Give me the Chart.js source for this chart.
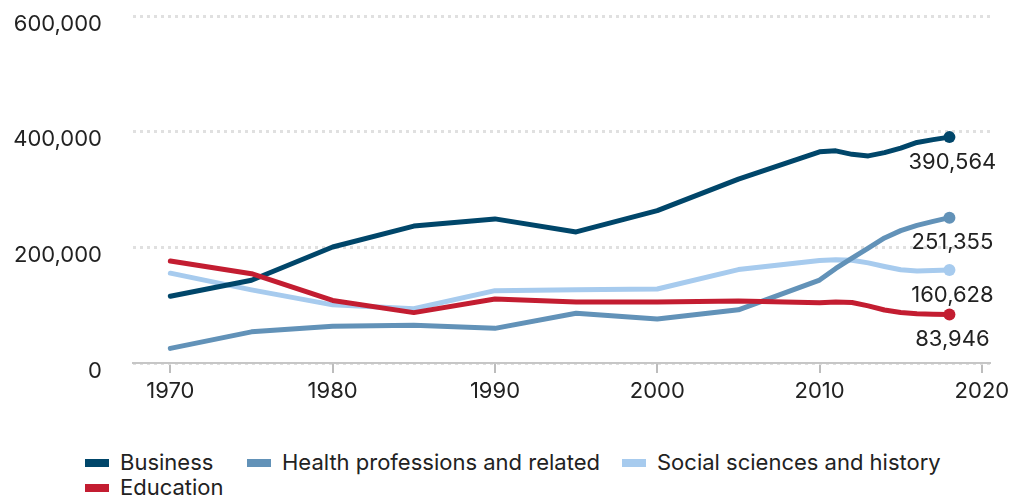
<!DOCTYPE html>
<html>
<head>
<meta charset="utf-8">
<script src="https://cdn.jsdelivr.net/npm/chart.js@4.4.1/dist/chart.umd.min.js"></script>
<style>
  body { margin: 0; background: #fff; }
  #wrap { position: relative; width: 1013px; height: 498px; }
  #plot { position: absolute; left: 0; top: 0; width: 1013px; height: 410px; }
  #legend {
    position: absolute; left: 85px; top: 450px; width: 910px;
    display: grid; grid-template-columns: 162px 375px auto;
    font: 22px Inter, sans-serif; color: #222; line-height: 25px;
  }
  .item { display: flex; align-items: center; }
  .swatch { width: 24px; height: 8px; margin-right: 11px; flex: none; }
</style>
</head>
<body>
<div id="wrap">
  <div id="plot"><canvas id="chart"></canvas></div>
  <div id="legend"></div>
</div>
<script>
// Degrees conferred by field, school years starting 1970 through 2018
const years = [1970, 1975, 1980, 1985, 1990, 1995, 2000, 2005, 2010, 2011, 2012, 2013, 2014, 2015, 2016, 2017, 2018];
const business = [115396, 143171, 200521, 236700, 249165, 226623, 263515, 318042, 365093, 366815, 360823, 358079, 363799, 371694, 381353, 386201, 390564];
const health = [25223, 53885, 63665, 65309, 59875, 86087, 75933, 91973, 143430, 163440, 181149, 198770, 216228, 228896, 238014, 244909, 251355];
const social = [155324, 126396, 100513, 93840, 125107, 126479, 128036, 161485, 177169, 178543, 177767, 173096, 166944, 161230, 159099, 159967, 160628];
const education = [176307, 154437, 108074, 87147, 110807, 105384, 105458, 107238, 104008, 105656, 104647, 98854, 91623, 87217, 85118, 84300, 83946];

const xTicks = [1970, 1980, 1990, 2000, 2010, 2020];
const yTicks = [0, 200000, 400000, 600000];

const FONT = 'Inter, sans-serif';
const SIZE = 22;
const TEXT = '#222';

const series = [
  { label: 'Business', values: business, color: '#00466a', order: 1 },
  { label: 'Health professions and related', values: health, color: '#6292b8', order: 2 },
  { label: 'Social sciences and history', values: social, color: '#a7cbee', order: 3 },
  { label: 'Education', values: education, color: '#c31d31', order: 0 }
];

const last = years.length - 1;

// value printed under the final point of each line
const endLabels = {
  id: 'endLabels',
  afterDatasetsDraw(chart) {
    const ctx = chart.ctx;
    ctx.save();
    ctx.font = SIZE + 'px ' + FONT;
    ctx.fillStyle = TEXT;
    ctx.textAlign = 'center';
    ctx.textBaseline = 'middle';
    chart.data.datasets.forEach((ds, i) => {
      const pt = chart.getDatasetMeta(i).data[last];
      ctx.fillText(ds.data[last].y.toLocaleString('en-US'), pt.x + 3, pt.y + 25);
    });
    ctx.restore();
  }
};

new Chart(document.getElementById('chart'), {
  type: 'line',
  data: {
    datasets: series.map(s => ({
      label: s.label,
      data: years.map((yr, i) => ({ x: yr, y: s.values[i] })),
      borderColor: s.color,
      backgroundColor: s.color,
      pointBackgroundColor: s.color,
      borderWidth: 5,
      borderCapStyle: 'round',
      borderJoinStyle: 'round',
      tension: 0,
      order: s.order,
      pointBorderWidth: 0,
      pointRadius: ctx => ctx.dataIndex === last ? 6 : 0,
      pointHoverRadius: ctx => ctx.dataIndex === last ? 6 : 0,
      clip: false
    }))
  },
  options: {
    responsive: true,
    maintainAspectRatio: false,
    animation: false,
    events: [],
    layout: { padding: { top: 16, right: 23, left: 0, bottom: 0 } },
    plugins: { legend: { display: false }, tooltip: { enabled: false } },
    scales: {
      x: {
        type: 'linear',
        min: 1967.7,
        max: 2020.5,
        afterBuildTicks: s => { s.ticks = xTicks.map(v => ({ value: v })); },
        afterFit: s => { s.height = 47; s.paddingLeft = 0; s.paddingRight = 0; },
        border: { display: true, color: '#c6c6c6', width: 2 },
        grid: { drawOnChartArea: false, drawTicks: true, tickLength: 10, color: '#bdbdbd', lineWidth: 2 },
        ticks: { padding: 5, color: TEXT, maxRotation: 0, font: { family: FONT, size: SIZE }, callback: v => String(v) }
      },
      y: {
        min: 0,
        max: 600000,
        afterBuildTicks: s => { s.ticks = yTicks.map(v => ({ value: v })); },
        afterFit: s => { s.width = 133; s.paddingTop = 0; s.paddingBottom = 0; },
        border: { display: false, dash: [3, 4] },
        grid: { color: '#e0e0e0', lineWidth: 3, drawTicks: false },
        ticks: { padding: 31, labelOffset: 8, color: TEXT, font: { family: FONT, size: SIZE }, callback: v => v.toLocaleString('en-US') }
      }
    }
  },
  plugins: [endLabels]
});

// legend below the plot, built from the same series list
const legend = document.getElementById('legend');
series.forEach(s => {
  const item = document.createElement('div');
  item.className = 'item';
  const sw = document.createElement('span');
  sw.className = 'swatch';
  sw.style.background = s.color;
  const txt = document.createElement('span');
  txt.textContent = s.label;
  item.appendChild(sw);
  item.appendChild(txt);
  legend.appendChild(item);
});
</script>
</body>
</html>
